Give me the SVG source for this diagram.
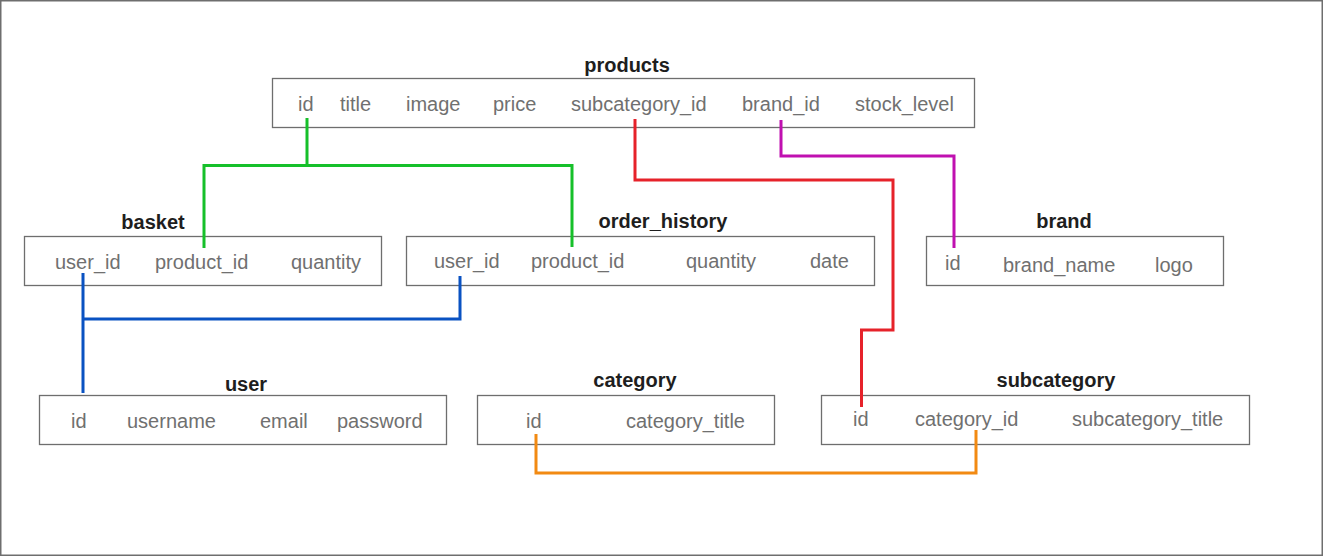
<svg xmlns="http://www.w3.org/2000/svg" width="1323" height="556" viewBox="0 0 1323 556">
<style>
.box{fill:#fff;stroke:#6e6e6e;stroke-width:1.3}
.f{font-family:"Liberation Sans",Arial,Helvetica,sans-serif;font-size:20px;fill:#707070}
.t{font-family:"Liberation Sans",Arial,Helvetica,sans-serif;font-size:20px;font-weight:bold;fill:#1e1e1e;text-anchor:middle}
.c{fill:none;stroke-width:3;stroke-linejoin:miter;stroke-linecap:butt}
</style>
<rect x="0.75" y="0.75" width="1321.5" height="554.5" fill="#fff" stroke="#6e6e6e" stroke-width="1.5"/>
<g id="products">
<text class="t" x="627" y="72">products</text>
<rect class="box" x="272.5" y="78.5" width="702" height="49"/>
<text class="f" x="298" y="111">id</text>
<text class="f" x="340" y="111">title</text>
<text class="f" x="406" y="111">image</text>
<text class="f" x="493" y="111">price</text>
<text class="f" x="571" y="111">subcategory_id</text>
<text class="f" x="742" y="111">brand_id</text>
<text class="f" x="855" y="111">stock_level</text>
</g>
<g id="basket">
<text class="t" x="153" y="229">basket</text>
<rect class="box" x="24.5" y="236.5" width="357" height="49"/>
<text class="f" x="55" y="269">user_id</text>
<text class="f" x="155" y="269">product_id</text>
<text class="f" x="291" y="269">quantity</text>
</g>
<g id="order_history">
<text class="t" x="663" y="228">order_history</text>
<rect class="box" x="406.5" y="236.5" width="468" height="49"/>
<text class="f" x="434" y="268">user_id</text>
<text class="f" x="531" y="268">product_id</text>
<text class="f" x="686" y="268">quantity</text>
<text class="f" x="810" y="268">date</text>
</g>
<g id="brand">
<text class="t" x="1064" y="228">brand</text>
<rect class="box" x="926.5" y="236.5" width="297" height="49"/>
<text class="f" x="945" y="270">id</text>
<text class="f" x="1003" y="272">brand_name</text>
<text class="f" x="1155" y="272">logo</text>
</g>
<g id="user">
<text class="t" x="246" y="391">user</text>
<rect class="box" x="39.5" y="395.5" width="407" height="49"/>
<text class="f" x="71" y="428">id</text>
<text class="f" x="127" y="428">username</text>
<text class="f" x="260" y="428">email</text>
<text class="f" x="337" y="428">password</text>
</g>
<g id="category">
<text class="t" x="635" y="387">category</text>
<rect class="box" x="477.5" y="395.5" width="297" height="49"/>
<text class="f" x="526" y="428">id</text>
<text class="f" x="626" y="428">category_title</text>
</g>
<g id="subcategory">
<text class="t" x="1056" y="387">subcategory</text>
<rect class="box" x="821.5" y="395.5" width="428" height="49"/>
<text class="f" x="853" y="426">id</text>
<text class="f" x="915" y="426">category_id</text>
<text class="f" x="1072" y="426">subcategory_title</text>
</g>
<g id="connectors">
<path class="c" stroke="#16c02a" d="M307,118 V165.5 M204,248 V165.5 H572 V247"/>
<path class="c" stroke="#0a52c2" d="M83,273 V393 M83,319 H460 V276"/>
<path class="c" stroke="#e6222a" d="M635,119 V180 H893 V330 H861.5 V407"/>
<path class="c" stroke="#c010b0" d="M781,120 V156 H954 V248"/>
<path class="c" stroke="#f28a12" d="M536,434 V473 H976 V430"/>
</g>
</svg>
